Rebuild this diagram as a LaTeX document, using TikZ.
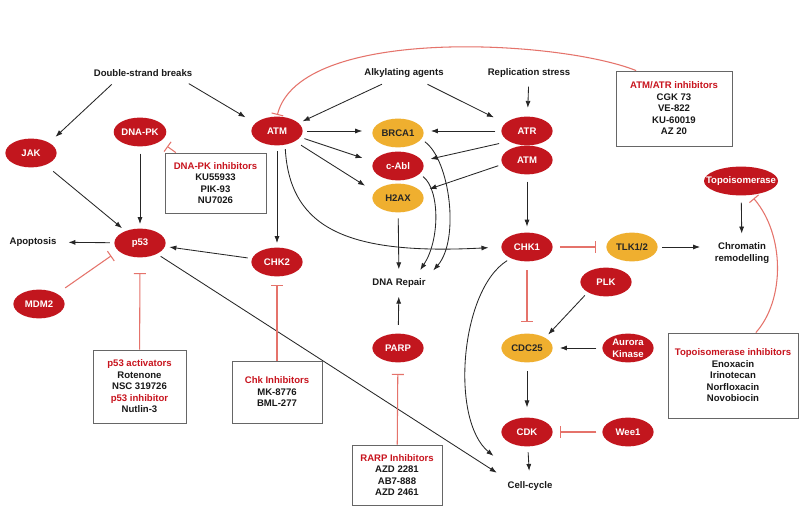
\documentclass[tikz,border=0pt]{standalone}
\usepackage{fontspec}
\setmainfont{Liberation Sans}
\usepackage{tikz}
\usetikzlibrary{shapes.geometric, arrows.meta}
\usepackage{xcolor}
\definecolor{ellred}{HTML}{C2161E}
\definecolor{ellor}{HTML}{EFAF2F}
\definecolor{inhred}{HTML}{E5736B}
\definecolor{hdred}{HTML}{C8141E}
\newcommand{\labfont}{\fontsize{6.8}{8.2}\selectfont\bfseries}

\begin{document}
\begin{tikzpicture}[x=0.025cm, y=-0.025cm,
    redell/.style={ellipse, fill=ellred, text=white, font=\labfont, align=center,
        minimum width=1.28cm, minimum height=0.72cm, inner sep=0pt},
    orell/.style={redell, fill=ellor, text=black!85},
    lbl/.style={font=\labfont, text=black!90, align=center},
    infobox/.style={draw=gray!80!black, fill=white, line width=0.6pt, font=\labfont,
        text=black!90, align=center, inner sep=0pt},
    arr/.style={-{Latex[length=5pt,width=3.6pt]}, line width=0.6pt, black!85,
        shorten <=3pt, shorten >=3pt},
    inh/.style={-{Bar[width=8.5pt]}, draw=inhred, line width=0.75pt}]
    \useasboundingbox (0,0) rectangle (800,510);
    \fill[white] (0,0) rectangle (800,510);

    \node[lbl] (dsb) at (143,73) {Double-strand breaks};
    \node[lbl] (alk) at (404,73) {Alkylating agents};
    \node[lbl] (rep) at (529,73) {Replication stress};
    \node[lbl] (apop) at (33,242) {Apoptosis};
    \node[lbl] (repair) at (399,283) {DNA Repair};
    \node[lbl] (cycle) at (530,486) {Cell-cycle};
    \node[lbl] (chrom) at (742,253) {Chromatin\\remodelling};

    \node[redell] (jak) at (31,153) {JAK};
    \node[redell] (dnapk) at (140,132) {DNA-PK};
    \node[redell] (atml) at (277,131) {ATM};
    \node[orell] (brca) at (398,133) {BRCA1};
    \node[redell] (cabl) at (398,166) {c-Abl};
    \node[orell] (h2ax) at (398,198) {H2AX};
    \node[redell] (atr) at (527,131) {ATR};
    \node[redell] (atmr) at (527,160) {ATM};
    \node[redell] (chk1) at (527,247) {CHK1};
    \node[orell] (tlk) at (632,247) {TLK1/2};
    \node[redell, minimum width=1.85cm] (topo) at (741,181) {\makebox[0pt]{Topoisomerase}};
    \node[redell] (p53) at (140,243) {p53};
    \node[redell] (mdm2) at (39,304) {MDM2};
    \node[redell] (chk2) at (277,262) {CHK2};
    \node[redell] (parp) at (398,348) {PARP};
    \node[orell] (cdc25) at (527,348) {CDC25};
    \node[redell] (plk) at (606,282) {PLK};
    \node[redell] (aurora) at (628,348) {Aurora\\Kinase};
    \node[redell] (cdk) at (527,432) {CDK};
    \node[redell] (wee1) at (628,432) {Wee1};

    \node[infobox, minimum width=2.9cm, minimum height=1.875cm] (atrbox) at (674,108.5)
        {\textcolor{hdred}{ATM/ATR inhibitors}\\CGK 73\\VE-822\\KU-60019\\AZ 20};
    \node[infobox, minimum width=2.525cm, minimum height=1.5cm] (dnapkbox) at (215.5,183)
        {\textcolor{hdred}{DNA-PK inhibitors}\\KU55933\\PIK-93\\NU7026};
    \node[infobox, minimum width=2.325cm, minimum height=1.825cm] (p53box) at (139.5,386.5)
        {\textcolor{hdred}{p53 activators}\\Rotenone\\NSC 319726\\\textcolor{hdred}{p53 inhibitor}\\Nutlin-3};
    \node[infobox, minimum width=2.25cm, minimum height=1.55cm] (chkbox) at (277,392)
        {\textcolor{hdred}{Chk Inhibitors}\\MK-8776\\BML-277};
    \node[infobox, minimum width=2.25cm, minimum height=1.5cm] (parpbox) at (397,475)
        {\textcolor{hdred}{RARP Inhibitors}\\AZD 2281\\AB7-888\\AZD 2461};
    \node[infobox, minimum width=3.25cm, minimum height=2.125cm] (topobox) at (733,375.5)
        {\textcolor{hdred}{Topoisomerase inhibitors}\\Enoxacin\\Irinotecan\\Norfloxacin\\Novobiocin};

    \draw[arr, shorten >=6pt] ([xshift=-20pt]dsb.south) -- (jak.north east);
    \draw[arr, shorten >=8pt] ([xshift=30pt]dsb.south) -- (atml.160);
    \draw[arr] ([xshift=-13pt]alk.south) -- (atml.20);
    \draw[arr, shorten >=9pt] ([xshift=14pt]alk.south) -- (atr.160);
    \draw[arr, shorten >=6pt] (rep) -- (atr);
    \draw[arr, shorten <=7pt] (jak) -- (p53);
    \draw[arr, shorten <=5pt] (dnapk) -- (p53);
    \draw[arr, shorten >=5pt] (p53) -- (apop);
    \draw[arr] (chk2) -- (p53);
    \draw[arr, shorten <=4pt] (atml) -- (chk2);
    \draw[arr, shorten >=7pt] (atml.east) -- (atml.east -| brca.west);
    \draw[arr, shorten >=8pt] (atml.-15) -- (cabl.170);
    \draw[arr, shorten <=5pt, shorten >=8pt] (atml.-30) -- (h2ax.165);
    \draw[arr, shorten >=9pt] (atml.-60) .. controls (290,230) and (350,255) .. (chk1.west);
    \draw[arr, shorten <=4pt, shorten >=5pt] (atr.west) -- (atr.west -| brca.east);
    \draw[arr, shorten <=7pt, shorten >=6pt] (atr.south west) -- (cabl.12);
    \draw[arr, shorten >=6pt] (atmr.190) -- (h2ax.15);
    \draw[arr, shorten <=5pt, shorten >=4pt] (atmr) -- (chk1);
    \draw[arr] (brca.-15) .. controls (450,160) and (460,240) .. (repair.north east);
    \draw[arr] (cabl.-20) .. controls (440,190) and (440,240) .. ([xshift=-9pt]repair.north east);
    \draw[arr, shorten <=4pt] (h2ax) -- (repair);
    \draw[arr, shorten <=6pt] (parp) -- (repair);
    \draw[arr, shorten >=5pt] (p53) -- (cycle.north west);
    \draw[arr] (chk1.215) .. controls (460,290) and (450,420) .. ([shift={(-6,-18)}]cycle.north west);
    \draw[arr, shorten >=7pt] (tlk.east) -- (tlk.east -| chrom.west);
    \draw[arr, shorten <=5pt] (topo) -- (chrom);
    \draw[arr] (plk.south west) -- (cdc25.north east);
    \draw[arr, shorten <=4pt, shorten >=5pt] (aurora) -- (cdc25);
    \draw[arr, shorten <=6pt, shorten >=7pt] (cdc25) -- (cdk);
    \draw[arr, shorten <=4pt, shorten >=4pt] (cdk) -- (cycle);

    \draw[inh, shorten <=7pt, shorten >=6pt] (mdm2.30) -- (p53.200);
    \draw[inh, shorten >=11pt] (p53box) -- (p53);
    \draw[inh, shorten >=6pt] (chkbox) -- (chk2);
    \draw[inh, shorten >=8pt] (parpbox) -- (parp);
    \draw[inh, shorten <=5pt, shorten >=7pt] (chk1.east) -- (chk1.east -| tlk.west);
    \draw[inh, shorten <=6pt, shorten >=8pt] (chk1) -- (cdc25);
    \draw[inh, shorten <=4pt, shorten >=5pt] (wee1) -- (cdk);
    \draw[inh, shorten >=6pt] ([xshift=8pt]dnapkbox.north west) -- (dnapk.-25);
    \draw[inh, shorten >=1pt] (atrbox.135) .. controls (560,40) and (300,25) .. (atml.north);
    \draw[inh, shorten >=3pt] (topobox.62) .. controls (785,300) and (785,235) .. (topo.-55);
\end{tikzpicture}
\end{document}
